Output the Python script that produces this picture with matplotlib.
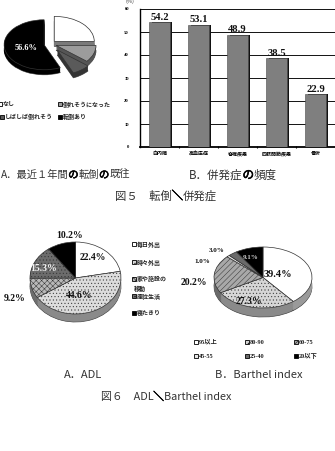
import matplotlib
matplotlib.use('Agg')
import matplotlib.pyplot as plt
import matplotlib.patheffects as pe
import numpy as np
from matplotlib.patches import Rectangle

W, H = 335, 451
plt.rcParams['font.family'] = ['Noto Sans CJK JP', 'DejaVu Sans']
plt.rcParams['hatch.linewidth'] = 0.35

# ---------------- data ----------------
fall_labels = ['なし', '倒れそうになった', 'しばしば倒れそう', '転倒あり']
fall_values = [25.0, 11.0, 7.4, 56.6]

comp_categories = ['白内障', '高血圧症', '脊椎疾患', '四肢関節疾患', '骨折']
comp_values = [54.2, 53.1, 48.9, 38.5, 22.9]
comp_yticks = [0, 10, 20, 30, 40, 50, 60]

adl_labels = ['毎日外出', '時々外出', '家や施設の\n移動', '座位生活', '寝たきり']
adl_values = [22.4, 44.6, 9.2, 15.3, 10.2]

bi_labels = ['95以上', '80-90', '60-75', '45-55', '25-40', '20以下']
bi_values = [39.4, 27.3, 20.2, 1.0, 3.0, 9.1]

SERIF = ['Liberation Serif', 'DejaVu Serif']
CAP = '#333333'

fig = plt.figure(figsize=(W / 100, H / 100), dpi=100)


def px_axes(x0, y0, x1, y1):
    return fig.add_axes([x0 / W, 1 - y1 / H, (x1 - x0) / W, (y1 - y0) / H])


def fx(x):
    return x / W


def fy(y):
    return 1 - y / H


def pie3d(cx, cy, rx, ry, thick, values, faces, sides, hatches, explode=None,
          halfw=90, halfh=70):
    ax = px_axes(cx - halfw, cy - halfh, cx + halfw, cy + halfh)
    n = 12
    for k in range(n, 0, -1):
        off = -thick / ry * k / n
        lw = 0.5 if k == n else 0
        ax.pie(values, colors=sides, startangle=90, counterclock=False,
               center=(0, off), explode=explode, normalize=True,
               wedgeprops=dict(linewidth=lw, edgecolor='#444444'))
    wedges, _ = ax.pie(values, colors=faces, startangle=90, counterclock=False,
                       explode=explode, hatch=hatches, normalize=True,
                       wedgeprops=dict(linewidth=0.5, edgecolor='#333333'))
    ax.set_aspect('auto')
    ax.set_xlim(-halfw / rx, halfw / rx)
    ax.set_ylim(-halfh / ry, halfh / ry)
    ax.axis('off')
    return ax, wedges


def wedge_label(ax, w, text, r, dang=0.0, **kw):
    ang = np.deg2rad((w.theta1 + w.theta2) / 2 + dang)
    cx, cy = w.center
    ax.text(cx + r * np.cos(ang), cy + r * np.sin(ang), text, ha='center',
            va='center', family=SERIF, fontweight='bold', **kw)


def legend_item(x, y, label, face, hatch=None, fs=4.3, size=4, fam=None):
    fig.add_artist(Rectangle((fx(x), fy(y + size / 2)), size / W, size / H,
                             facecolor=face, edgecolor='black', lw=0.6,
                             hatch=hatch, transform=fig.transFigure))
    kw = {}
    if fam:
        kw['family'] = fam
    fig.text(fx(x + size + 1), fy(y), label, fontsize=fs, va='center',
             ha='left', color='#222222', fontweight='bold', **kw)


def rich_text(x, y, pieces, fs, ha='center'):
    """pieces: list of (string, emphasised) drawn one after another."""
    r = fig.canvas.get_renderer()
    arts, widths = [], []
    for s, strong in pieces:
        t = fig.text(0, fy(y), s, fontsize=fs, va='center', ha='left',
                     color='#000000' if strong else CAP)
        if strong:
            t.set_path_effects([pe.withStroke(linewidth=0.45,
                                              foreground='#000000')])
        arts.append(t)
        widths.append(t.get_window_extent(r).width)
    total = sum(widths)
    if ha == 'center':
        cur = x - total / 2
    elif ha == 'right':
        cur = x - total
    else:
        cur = x
    for t, w in zip(arts, widths):
        t.set_x(fx(cur))
        cur += w


# ---------------- Fig 5A : fall history pie ----------------
fall_faces = ['#ffffff', '#9c9c9c', '#5a5a5a', '#000000']
ax1, w1 = pie3d(50, 44, 40, 25, 5, fall_values,
                faces=fall_faces,
                sides=['#7a7a7a', '#555555', '#333333', '#000000'],
                hatches=[None, None, None, None],
                explode=[0.15, 0.16, 0.3, 0.15])
wedge_label(ax1, w1[3], '56.6%', 0.48, 6, color='white', fontsize=6)

legend_item(-2, 104, fall_labels[0], fall_faces[0])
legend_item(58, 104, fall_labels[1], fall_faces[1])
legend_item(0, 117, fall_labels[2], fall_faces[2])
legend_item(58, 117, fall_labels[3], fall_faces[3])

# ---------------- Fig 5B : complications bar chart ----------------
axb = px_axes(140, 9, 335, 147)
x = np.arange(len(comp_values))
axb.bar(x + 0.07, comp_values, 0.52, color='#111111', zorder=2)
axb.bar(x, comp_values, 0.52, color='#7f7f7f', edgecolor='#4a4a4a',
        linewidth=0.4, zorder=3)
for xi, v in zip(x, comp_values):
    axb.text(xi, v + 0.2, f'{v:.1f}', ha='center', va='bottom', fontsize=7.6,
             family=SERIF, fontweight='bold', color='#111111', zorder=4)
axb.set_xlim(-0.5, 4.5)
axb.set_ylim(0, 60)
axb.set_yticks(comp_yticks)
axb.set_yticklabels([str(t) for t in comp_yticks], fontsize=3.3,
                    fontweight='bold', family=SERIF)
axb.set_xticks(x)
axb.set_xticklabels(comp_categories, fontsize=3.6, fontweight='bold')
axb.set_xticks(x[:-1] + 0.5, minor=True)
axb.tick_params(axis='x', which='major', length=0, pad=3)
axb.tick_params(axis='x', which='minor', length=1.5, width=0.8,
                direction='inout')
axb.tick_params(axis='y', length=0, pad=8)
axb.yaxis.grid(True, color='#111111', linewidth=0.7, zorder=1)
axb.set_axisbelow(True)
for s in ['top', 'right']:
    axb.spines[s].set_visible(False)
axb.spines['left'].set_linewidth(1.0)
axb.spines['bottom'].set_linewidth(1.3)
fig.text(fx(130), fy(1.5), '(%)', fontsize=4, ha='center', va='center',
         color='#333333')

# captions fig 5
rich_text(0.5, 175, [('A．最近１年間', False), ('の', True), ('転倒', False),
                     ('の', True), ('既往', False)], 7.4, ha='left')
rich_text(233, 175, [('B．併発症', False), ('の', True), ('頻度', False)],
          8.3)
rich_text(166, 196, [('図５　転倒', False), ('＼', True), ('併発症', False)],
          8.2)

# ---------------- Fig 6A : ADL pie ----------------
adl_faces = ['#ffffff', '#dcdcdc', '#b8b8b8', '#6c6c6c', '#000000']
adl_sides = ['#b5b5b5', '#8a8a8a', '#6e6e6e', '#4a4a4a', '#000000']
adl_hatch = [None, '.....', 'xxxxxx', '.....', None]
ax2, w2 = pie3d(75.5, 278, 45.5, 36, 8, adl_values, adl_faces, adl_sides,
                adl_hatch)
wedge_label(ax2, w2[0], '22.4%', 0.68, 6, fontsize=7, color='#111111')
wedge_label(ax2, w2[1], '44.6%', 0.5, -12, fontsize=7, color='#111111')
wedge_label(ax2, w2[2], '9.2%', 1.45, 6, fontsize=7, color='#111111')
wedge_label(ax2, w2[3], '15.3%', 0.74, 7, fontsize=7, color='#f2f2f2')
wedge_label(ax2, w2[4], '10.2%', 1.2, -12, fontsize=7, color='#111111')

adl_leg_y = [244, 262, 279, 296, 313]
for lab, fc, hc, yy in zip(adl_labels, adl_faces, adl_hatch, adl_leg_y):
    if '\n' in lab:
        a, b = lab.split('\n')
        legend_item(132, yy, a, fc, hc)
        fig.text(fx(134), fy(yy + 9), b, fontsize=4.3, va='center',
                 ha='left', color='#222222', fontweight='bold')
    else:
        legend_item(132, yy, lab, fc, hc)

# ---------------- Fig 6B : Barthel index pie ----------------
bi_faces = ['#ffffff', '#d6d6d6', '#a8a8a8', '#e6e6e6', '#6a6a6a', '#000000']
bi_sides = ['#9a9a9a', '#8a8a8a', '#6a6a6a', '#8a8a8a', '#444444', '#000000']
bi_hatch = [None, '.....', '//////', None, None, None]
ax3, w3 = pie3d(263, 277.5, 49, 30.5, 9, bi_values, bi_faces, bi_sides,
                bi_hatch)
wedge_label(ax3, w3[0], '39.4%', 0.32, 0, fontsize=7.5, color='#111111')
wedge_label(ax3, w3[1], '27.3%', 0.82, -9, fontsize=7, color='#111111')
wedge_label(ax3, w3[2], '20.2%', 1.42, 13, fontsize=7, color='#111111')
wedge_label(ax3, w3[3], '1.0%', 1.34, 22, fontsize=5, color='#111111')
wedge_label(ax3, w3[4], '3.0%', 1.28, 9, fontsize=5, color='#111111')
wedge_label(ax3, w3[5], '9.1%', 0.69, 5, fontsize=5, color='#cccccc')

bi_cols = [194, 245, 294]
bi_rows = [342, 356]
for i, (lab, fc, hc) in enumerate(zip(bi_labels, bi_faces, bi_hatch)):
    legend_item(bi_cols[i % 3], bi_rows[i // 3], lab, fc, hc, fs=4.5,
                fam=['Liberation Serif', 'Noto Sans CJK JP'])

# captions fig 6
fig.text(fx(83), fy(375), 'A．ADL', fontsize=8, ha='center', va='center',
         color=CAP)
fig.text(fx(259), fy(375), 'B．Barthel index', fontsize=8, ha='center',
         va='center', color=CAP)
rich_text(166, 397, [('図６　ADL', False), ('＼', True),
                     ('Barthel index', False)], 7.8)

fig.savefig('out.png', dpi=100, facecolor='white')
